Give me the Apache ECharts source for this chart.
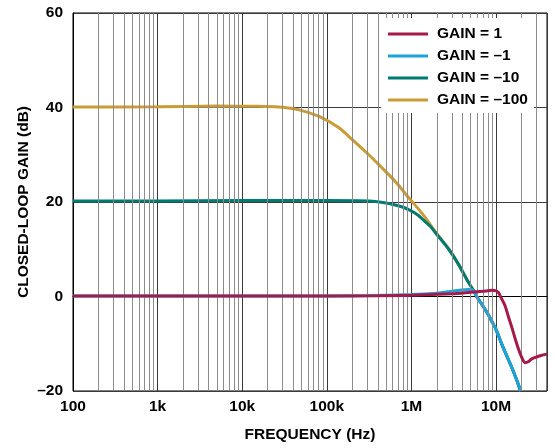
<!DOCTYPE html>
<html>
<head>
<meta charset="utf-8">
<script src="https://cdn.jsdelivr.net/npm/echarts@6/dist/echarts.min.js"></script>
<style>
html,body{margin:0;padding:0;background:#fff;}
#chart{width:556px;height:448px;}
</style>
</head>
<body>
<div id="chart"></div>
<script>
// ---- data ----
const seriesNames = ['GAIN = 1', 'GAIN = –1', 'GAIN = –10', 'GAIN = –100'];

const freqGain1 = [100, 1e3, 1e4, 1e5, 4e5, 1e6, 3e6, 5e6, 7e6, 9e6, 1e7, 1.07e7, 1.15e7, 1.28e7, 1.4e7, 1.54e7, 1.7e7, 1.84e7, 2.0e7, 2.2e7, 2.4e7, 2.64e7, 3.0e7, 3.4e7, 4.0e7];
const dbGain1   = [0.1, 0.1, 0.1, 0.1, 0.15, 0.25, 0.6, 0.9, 1.1, 1.3, 1.2, 0.8, -0.3, -2.0, -4.3, -6.6, -9.2, -11.1, -12.8, -14.0, -13.8, -13.2, -12.8, -12.5, -12.2];

const freqGainM1 = [100, 1e3, 1e4, 1e5, 3e5, 1e6, 2e6, 3e6, 4e6, 4.7e6, 5.4e6, 6e6, 7e6, 8e6, 9e6, 1e7, 1.2e7, 1.5e7, 1.75e7, 1.95e7];
const dbGainM1   = [0.1, 0.1, 0.1, 0.1, 0.2, 0.4, 0.7, 1.1, 1.4, 1.5, 1.3, -0.2, -2.0, -3.7, -5.4, -7.0, -10.6, -14.6, -17.6, -20.0];

const freqGainM10 = [100, 1e3, 1e4, 1e5, 3.13e5, 5.4e5, 7e5, 9.29e5, 1.2e6, 1.46e6, 1.7e6, 1.92e6, 2.76e6, 3.6e6, 4.73e6, 5.4e6, 6e6, 7e6, 8e6, 9e6, 1e7, 1.2e7, 1.5e7, 1.75e7, 1.95e7];
const dbGainM10   = [20.2, 20.2, 20.3, 20.3, 20.2, 19.7, 19.2, 18.4, 17.2, 15.8, 14.7, 13.5, 10.0, 6.8, 2.95, 1.3, -0.2, -2.0, -3.7, -5.4, -7.0, -10.6, -14.6, -17.6, -20.0];

const freqGainM100 = [100, 1e3, 5e3, 1.5e4, 2.7e4, 4.7e4, 8.1e4, 1.39e5, 2e5, 3.13e5, 4.11e5, 5.4e5, 7e5, 9.29e5, 1.2e6, 1.46e6, 1.92e6, 2.76e6, 3.6e6, 4.73e6, 5.4e6, 6e6, 7e6, 8e6, 9e6, 1e7, 1.2e7, 1.5e7, 1.75e7, 1.95e7];
const dbGainM100   = [40.1, 40.15, 40.3, 40.25, 40.1, 39.5, 38.1, 35.7, 33.2, 30.0, 27.9, 25.8, 23.6, 20.9, 18.6, 16.7, 13.7, 10.1, 6.8, 2.95, 1.3, -0.2, -2.0, -3.7, -5.4, -7.0, -10.6, -14.6, -17.6, -20.0];

const xTickValues = [100, 1e3, 1e4, 1e5, 1e6, 1e7];
const xTickLabels = ['100', '1k', '10k', '100k', '1M', '10M'];
const yTickValues = [-20, 0, 20, 40, 60];

const colors = ['#A31A4B', '#1CA3DB', '#007A72', '#C99C35'];

// minor gridlines (2..9 within each decade)
const minorGrid = [];
for (let d = 100; d <= 1e7; d *= 10) {
  for (let m = 2; m <= 9; m++) {
    const v = d * m;
    if (v < 4e7) minorGrid.push(v);
  }
}

const font = '"Liberation Sans", Arial, Helvetica, sans-serif';
const fs = 15.5;

function pairs(f, g) { return f.map((v, i) => [v, g[i]]); }

const chart = echarts.init(document.getElementById('chart'), null, {renderer: 'canvas'});

const lineSeries = (name, f, g, color, z) => ({
  name: name,
  type: 'line',
  data: pairs(f, g),
  showSymbol: false,
  symbol: 'none',
  smooth: 0.25,
  z: z,
  lineStyle: {color: color, width: 3},
  itemStyle: {color: color},
  clip: true
});

chart.setOption({
  animation: false,
  backgroundColor: '#fff',
  textStyle: {fontFamily: font},
  grid: {
    left: 73, right: 9, top: 13, bottom: 56,
    show: true, borderColor: '#000', borderWidth: 1, backgroundColor: 'transparent'
  },
  legend: {
    data: seriesNames,
    orient: 'vertical',
    left: 381, top: 18,
    z: 20, zlevel: 0,
    padding: [8, 6, 5, 7],
    itemGap: 6,
    itemWidth: 40,
    itemHeight: 3,
    icon: 'rect',
    backgroundColor: '#fff',
    textStyle: {fontFamily: font, fontWeight: 'bold', fontSize: fs, color: '#000', lineHeight: 15, padding: [0, 0, 0, 4]}
  },
  xAxis: {
    type: 'log',
    logBase: 10,
    min: 100,
    max: 4e7,
    name: 'FREQUENCY (Hz)',
    nameLocation: 'middle',
    nameGap: 36,
    nameMoveOverlap: false,
    nameTextStyle: {fontFamily: font, fontWeight: 'bold', fontSize: fs, color: '#000'},
    axisLine: {show: true, lineStyle: {color: '#000', width: 1}},
    axisTick: {show: false},
    axisLabel: {
      margin: 8,
      fontFamily: font, fontWeight: 'bold', fontSize: fs, color: '#000',
      formatter: function (v) {
        for (let i = 0; i < xTickValues.length; i++) {
          if (Math.abs(v - xTickValues[i]) / xTickValues[i] < 1e-6) return xTickLabels[i];
        }
        return '';
      }
    },
    splitLine: {show: true, lineStyle: {color: '#3a3a3a', width: 1}},
    minorTick: {show: false},
    minorSplitLine: {show: false}
  },
  yAxis: {
    type: 'value',
    min: yTickValues[0],
    max: yTickValues[yTickValues.length - 1],
    interval: 20,
    name: 'CLOSED-LOOP GAIN (dB)',
    nameLocation: 'middle',
    nameRotate: 90,
    nameGap: 41,
    nameMoveOverlap: false,
    nameTextStyle: {fontFamily: font, fontWeight: 'bold', fontSize: fs, color: '#000'},
    axisLine: {show: true, lineStyle: {color: '#000', width: 1}},
    axisTick: {show: false},
    axisLabel: {
      margin: 10,
      fontFamily: font, fontWeight: 'bold', fontSize: fs, color: '#000',
      formatter: function (v) { return String(v).replace('-', '–'); }
    },
    splitLine: {show: true, lineStyle: {color: '#3a3a3a', width: 1}}
  },
  series: [
    {
      name: 'minor-grid',
      type: 'line',
      data: [],
      z: 1,
      silent: true,
      markLine: {
        silent: true,
        symbol: ['none', 'none'],
        label: {show: false},
        lineStyle: {color: '#8c8c8c', width: 1, type: 'solid'},
        emphasis: {disabled: true},
        data: minorGrid.map(v => ({xAxis: v}))
      }
    },
    lineSeries(seriesNames[3], freqGainM100, dbGainM100, colors[3], 2),
    lineSeries(seriesNames[2], freqGainM10, dbGainM10, colors[2], 3),
    lineSeries(seriesNames[1], freqGainM1, dbGainM1, colors[1], 4),
    lineSeries(seriesNames[0], freqGain1, dbGain1, colors[0], 5)
  ]
});
</script>
</body>
</html>
